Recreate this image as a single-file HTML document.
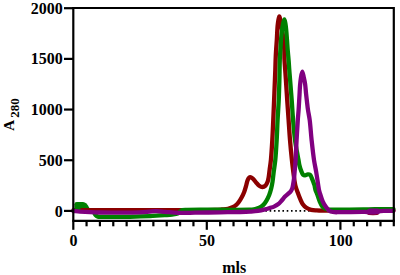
<!DOCTYPE html>
<html><head><meta charset="utf-8"><style>html,body{margin:0;padding:0;background:#fff;overflow:hidden}svg{display:block}</style></head>
<body><svg width="400" height="275" viewBox="0 0 400 275">
<rect width="400" height="275" fill="#fff"/>
<g fill="none" stroke-linejoin="round" stroke-linecap="round">
<path d="M73.20,210.90 H393.5" stroke="#000" stroke-width="1.6" stroke-dasharray="1.6 2.67" stroke-linecap="butt"/>
<path d="M73.50,210.20 C99.00,210.20 125.54,210.24 150.00,210.20 C172.55,210.17 204.30,210.40 215.00,210.00 C218.52,209.87 219.76,209.71 222.00,209.50 C224.08,209.30 226.16,209.21 228.00,208.80 C229.63,208.44 231.13,207.93 232.50,207.30 C233.77,206.71 234.96,206.07 236.00,205.20 C237.06,204.31 237.91,203.20 238.80,202.00 C239.79,200.66 240.73,199.10 241.60,197.50 C242.54,195.78 243.47,193.88 244.20,192.00 C244.93,190.12 245.44,188.16 246.00,186.20 C246.57,184.22 246.97,181.72 247.60,180.20 C248.02,179.18 248.45,178.30 249.00,177.80 C249.39,177.44 249.81,177.19 250.30,177.20 C250.96,177.22 251.82,177.78 252.60,178.40 C253.71,179.28 254.87,181.13 256.00,182.40 C257.07,183.59 258.04,185.03 259.20,185.80 C260.20,186.46 261.35,187.03 262.40,187.00 C263.45,186.97 264.67,186.36 265.50,185.60 C266.41,184.76 266.98,183.34 267.50,182.00 C268.08,180.51 268.37,178.82 268.70,177.00 C269.09,174.87 269.27,172.54 269.60,170.00 C269.99,166.96 270.51,163.91 270.90,160.00 C271.45,154.48 271.91,146.67 272.30,140.00 C272.69,133.34 272.95,126.67 273.25,120.00 C273.55,113.33 273.82,106.67 274.10,100.00 C274.37,93.33 274.68,85.52 274.90,80.00 C275.06,76.09 275.18,73.33 275.30,70.00 C275.42,66.67 275.47,63.33 275.60,60.00 C275.73,56.67 275.90,53.33 276.10,50.00 C276.30,46.67 276.57,43.61 276.80,40.00 C277.07,35.73 277.23,29.78 277.60,26.00 C277.85,23.42 278.16,21.28 278.50,19.50 C278.74,18.24 279.03,16.31 279.30,16.30 C279.53,16.29 279.78,17.63 280.00,18.50 C280.32,19.73 280.60,21.33 280.90,23.00 C281.27,25.07 281.60,27.46 282.00,30.00 C282.48,33.04 283.22,36.66 283.60,40.00 C283.98,43.32 284.15,46.66 284.30,50.00 C284.45,53.33 284.35,56.67 284.50,60.00 C284.65,63.34 284.97,66.67 285.20,70.00 C285.43,73.33 285.64,76.09 285.90,80.00 C286.27,85.52 286.75,93.33 287.20,100.00 C287.65,106.67 288.13,113.33 288.60,120.00 C289.07,126.67 289.45,133.34 290.00,140.00 C290.55,146.67 291.28,154.18 291.90,160.00 C292.38,164.51 292.73,167.85 293.30,172.00 C293.91,176.49 294.52,182.09 295.50,186.00 C296.23,188.92 297.24,191.16 298.10,193.50 C298.87,195.59 299.58,197.55 300.40,199.40 C301.15,201.10 301.78,202.79 302.80,204.20 C303.79,205.58 305.01,206.87 306.40,207.80 C307.81,208.74 309.51,209.37 311.20,209.80 C312.96,210.25 315.00,210.27 316.80,210.40 C318.46,210.52 319.48,210.56 321.60,210.60 C325.75,210.69 332.27,210.60 340.00,210.60 C353.18,210.60 375.67,210.60 393.50,210.60" stroke="#8b0000" stroke-width="4.3"/>
<path d="M369,212.8 L373,213.2 L377,212.8" stroke="#8b0000" stroke-width="4.3"/>
<path d="M89.50,210.50 C90.50,210.73 91.71,210.80 92.50,211.20 C93.13,211.52 93.52,211.94 94.00,212.50 C94.60,213.20 94.99,214.50 95.70,215.20 C96.35,215.84 97.23,216.34 98.00,216.60 C98.66,216.82 98.94,216.75 100.00,216.80 C104.10,217.00 121.01,216.93 130.00,216.80 C137.34,216.69 143.81,216.50 150.00,216.20 C155.36,215.94 160.94,215.51 165.00,215.20 C167.77,214.99 169.81,214.89 172.00,214.60 C173.95,214.34 176.08,214.25 177.50,213.60 C178.57,213.11 179.15,212.19 180.00,211.60 C180.81,211.03 181.50,210.41 182.50,210.10 C183.74,209.71 184.63,209.88 187.00,209.80 C195.81,209.50 240.92,210.01 249.50,209.70 C251.73,209.62 252.41,209.60 253.70,209.40 C254.82,209.23 255.78,208.98 256.80,208.65 C257.85,208.31 258.89,207.90 259.90,207.35 C260.99,206.76 262.09,206.12 263.10,205.15 C264.32,203.97 265.50,202.20 266.50,200.55 C267.54,198.83 268.43,196.95 269.20,195.00 C270.01,192.95 270.65,190.68 271.20,188.50 C271.75,186.35 272.12,184.41 272.50,182.00 C272.97,179.03 273.26,175.48 273.70,172.00 C274.18,168.18 274.84,164.52 275.30,160.00 C275.89,154.19 276.32,146.67 276.70,140.00 C277.08,133.34 277.26,126.67 277.60,120.00 C277.94,113.33 278.45,106.67 278.75,100.00 C279.05,93.34 279.22,86.67 279.40,80.00 C279.57,73.33 279.58,65.52 279.80,60.00 C279.96,56.09 280.20,53.33 280.40,50.00 C280.60,46.67 280.73,43.33 281.00,40.00 C281.27,36.66 281.61,32.90 282.00,30.00 C282.30,27.74 282.57,25.87 283.00,24.00 C283.39,22.32 283.98,19.29 284.40,19.30 C284.81,19.31 285.21,22.33 285.50,24.00 C285.83,25.87 285.98,27.74 286.20,30.00 C286.49,32.91 286.75,36.67 287.00,40.00 C287.25,43.33 287.43,46.67 287.70,50.00 C287.97,53.33 288.33,56.67 288.60,60.00 C288.87,63.33 289.05,66.67 289.30,70.00 C289.55,73.33 289.79,76.09 290.10,80.00 C290.54,85.52 291.20,93.33 291.70,100.00 C292.20,106.67 292.55,113.34 293.10,120.00 C293.65,126.67 294.24,134.19 295.00,140.00 C295.59,144.52 296.36,148.41 297.00,152.00 C297.52,154.94 298.05,157.58 298.50,160.00 C298.87,162.00 299.05,163.69 299.50,165.50 C299.95,167.32 300.56,169.29 301.20,170.90 C301.75,172.27 302.21,173.87 303.00,174.60 C303.57,175.13 304.27,175.39 305.00,175.40 C305.85,175.42 306.89,174.46 307.80,174.40 C308.62,174.34 309.56,174.40 310.20,174.90 C310.98,175.51 311.29,177.03 311.80,178.20 C312.36,179.48 312.93,181.07 313.40,182.30 C313.78,183.29 314.09,183.95 314.40,185.00 C314.81,186.40 315.03,188.48 315.50,190.00 C315.92,191.35 316.45,192.24 317.00,193.70 C317.79,195.79 318.70,199.09 319.70,201.40 C320.56,203.39 321.30,205.50 322.50,206.80 C323.49,207.87 324.74,208.53 326.00,209.00 C327.24,209.46 327.97,209.45 330.00,209.60 C336.25,210.05 359.43,209.54 368.50,209.40 C373.46,209.32 376.01,209.15 380.00,209.10 C384.32,209.04 389.00,209.10 393.50,209.10" stroke="#008000" stroke-width="4.3"/>
<path d="M74.4,204.2 Q74.4,202 76.6,202 L83,202 C85.5,202 87.6,204.2 89.4,207.9 L90,210 L74.4,210 Z" fill="#008000"/>
<path d="M80.5,210.2 H110" stroke="#8b0000" stroke-width="4.3" stroke-linecap="butt"/>
<path d="M73.30,211.00 C75.53,211.20 77.54,211.42 80.00,211.60 C83.00,211.82 86.67,212.05 90.00,212.20 C93.33,212.35 95.55,212.44 100.00,212.50 C108.89,212.62 131.12,212.77 140.00,212.40 C144.45,212.22 147.09,211.81 150.00,211.60 C152.25,211.43 153.80,211.20 156.00,211.20 C158.70,211.20 161.73,211.56 165.00,211.80 C168.94,212.08 173.37,212.64 178.00,212.80 C183.28,212.99 188.79,212.77 195.00,212.70 C202.53,212.62 212.13,212.42 220.00,212.30 C227.04,212.19 234.48,212.15 240.00,212.00 C243.91,211.89 246.85,211.80 250.00,211.60 C252.82,211.42 255.43,211.29 258.00,210.90 C260.42,210.54 262.87,209.95 265.00,209.40 C266.82,208.93 268.43,208.39 270.00,207.90 C271.41,207.46 272.70,207.18 274.00,206.60 C275.37,205.99 276.77,205.24 278.00,204.30 C279.28,203.32 280.36,202.05 281.50,200.80 C282.70,199.49 283.78,197.86 285.00,196.60 C286.15,195.41 287.56,194.38 288.60,193.40 C289.44,192.61 290.20,192.02 290.80,191.20 C291.40,190.39 291.82,189.54 292.20,188.50 C292.67,187.22 292.91,185.58 293.20,184.00 C293.52,182.26 293.77,180.41 294.00,178.50 C294.25,176.43 294.38,174.50 294.60,172.00 C294.90,168.61 295.30,164.51 295.60,160.00 C295.99,154.18 296.23,146.67 296.60,140.00 C296.97,133.33 297.41,125.52 297.80,120.00 C298.07,116.09 298.37,113.33 298.60,110.00 C298.83,106.67 299.03,102.76 299.20,100.00 C299.32,98.05 299.39,96.91 299.50,95.00 C299.65,92.44 299.77,88.86 300.00,86.00 C300.21,83.38 300.41,80.94 300.80,78.50 C301.18,76.14 301.78,71.61 302.30,71.60 C302.78,71.59 303.34,75.48 303.80,77.50 C304.28,79.61 304.74,81.59 305.10,84.00 C305.54,86.97 305.77,90.96 306.10,94.00 C306.37,96.54 306.61,98.52 306.90,101.00 C307.23,103.81 307.55,106.93 308.00,110.00 C308.47,113.25 309.18,116.08 309.70,120.00 C310.43,125.51 310.88,133.34 311.60,140.00 C312.32,146.67 313.12,154.19 314.00,160.00 C314.68,164.52 315.51,167.91 316.20,172.00 C316.91,176.24 317.68,181.68 318.20,185.00 C318.52,187.06 318.66,188.49 319.00,190.00 C319.28,191.28 319.56,192.11 320.00,193.50 C320.66,195.61 321.65,199.09 322.70,201.40 C323.59,203.36 324.59,205.05 325.70,206.60 C326.71,208.02 327.72,209.49 329.00,210.40 C330.18,211.24 331.45,211.68 333.00,212.00 C334.98,212.41 336.95,212.17 340.00,212.20 C345.77,212.25 360.24,211.69 365.00,211.90 C366.91,211.98 367.59,212.22 369.00,212.30 C370.57,212.39 372.39,212.58 374.00,212.40 C375.55,212.23 376.91,211.55 378.50,211.30 C380.23,211.03 381.92,210.98 384.00,210.90 C386.71,210.80 390.27,210.90 393.40,210.90" stroke="#800080" stroke-width="4.3"/>
<path d="M369.8,211.3 L377.2,211.4" stroke="#800080" stroke-width="5.8"/>
</g>
<g stroke="#000" stroke-width="2.2" fill="none" stroke-linecap="butt">
<path d="M73.3,7 V229.8"/>
<path d="M72.3,8 H393.8 V226.3"/>
<path d="M72.35,220.9 H394.9"/>
<path d="M64,210.90 H73.2"/>
<path d="M64,160.23 H73.2"/>
<path d="M64,109.55 H73.2"/>
<path d="M64,58.88 H73.2"/>
<path d="M64,8.20 H73.2"/>
<path d="M86.56,220.9 V226.3"/>
<path d="M99.92,220.9 V226.3"/>
<path d="M113.28,220.9 V226.3"/>
<path d="M126.64,220.9 V226.3"/>
<path d="M140.00,220.9 V226.3"/>
<path d="M153.36,220.9 V226.3"/>
<path d="M166.72,220.9 V226.3"/>
<path d="M180.08,220.9 V226.3"/>
<path d="M193.44,220.9 V226.3"/>
<path d="M206.80,220.9 V229.8"/>
<path d="M220.16,220.9 V226.3"/>
<path d="M233.52,220.9 V226.3"/>
<path d="M246.88,220.9 V226.3"/>
<path d="M260.24,220.9 V226.3"/>
<path d="M273.60,220.9 V226.3"/>
<path d="M286.96,220.9 V226.3"/>
<path d="M300.32,220.9 V226.3"/>
<path d="M313.68,220.9 V226.3"/>
<path d="M327.04,220.9 V226.3"/>
<path d="M340.40,220.9 V229.8"/>
<path d="M353.76,220.9 V226.3"/>
<path d="M367.12,220.9 V226.3"/>
<path d="M380.48,220.9 V226.3"/>
</g>
<g font-family="Liberation Serif" font-weight="bold" font-size="16" fill="#000">
<text x="62.8" y="216.50" text-anchor="end">0</text>
<text x="62.8" y="165.83" text-anchor="end">500</text>
<text x="62.8" y="115.15" text-anchor="end">1000</text>
<text x="62.8" y="64.47" text-anchor="end">1500</text>
<text x="62.8" y="13.80" text-anchor="end">2000</text>
<text x="73.50" y="246.2" text-anchor="middle">0</text>
<text x="207.10" y="246.2" text-anchor="middle">50</text>
<text x="340.70" y="246.2" text-anchor="middle">100</text>
<text x="234.2" y="273.3" text-anchor="middle">mls</text>
<text transform="translate(13.9,130.9) rotate(-90)" font-size="15.5">A<tspan font-size="13" dy="5.4" dx="1.9">280</tspan></text>
</g>
</svg></body></html>
